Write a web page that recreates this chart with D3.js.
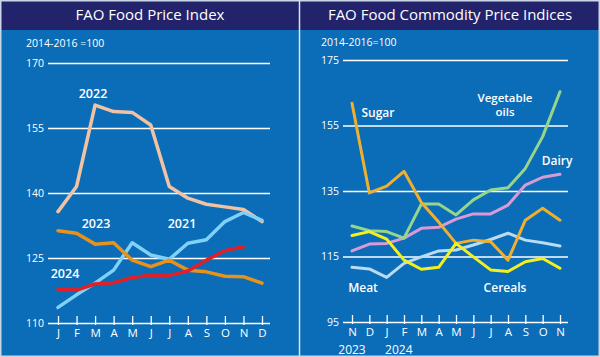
<!DOCTYPE html>
<html><head><meta charset="utf-8">
<script src="https://cdn.jsdelivr.net/npm/d3@7"></script>
<style>
html,body{margin:0;padding:0;background:#0c6bb6;}
svg{display:block;font-family:"Open Sans","Noto Sans",sans-serif;}
</style></head><body>
<svg id="c" width="600" height="357"></svg>
<script>
// ---- Left panel data: FAO Food Price Index ----
const monthsLeft = ["J","F","M","A","M","J","J","A","S","O","N","D"];
const yTicksLeft = [110,125,140,155,170];
const fpi2021 = [113.6,116.5,119.2,122.2,128.5,125.7,124.7,128.4,129.2,133.4,135.5,133.7];
const fpi2022 = [135.7,141.5,160.3,158.8,158.6,155.7,141.5,138.8,137.4,136.8,136.2,133.4];
const fpi2023 = [131.3,130.7,128.2,128.5,124.5,123.0,124.5,122.2,121.8,120.8,120.7,119.2];
const fpi2024 = [117.8,117.6,119.0,119.3,120.5,121.0,121.0,122.0,124.5,126.7,127.6];

// ---- Right panel data: FAO Food Commodity Price Indices ----
const monthsRight = ["N","D","J","F","M","A","M","J","J","A","S","O","N"];
const yearsRight = [{label:"2023",idx:0},{label:"2024",idx:2.7}];
const yTicksRight = [95,115,135,155,175];
const sugar   = [161.8,134.4,136.5,141.0,131.5,125.5,119.0,120.0,119.5,113.9,126.1,129.7,126.1];
const vegOils = [124.3,122.9,122.6,120.6,131.0,131.0,127.7,132.3,135.3,136.0,141.9,151.6,165.3];
const dairy   = [116.7,118.8,119.0,120.6,123.6,123.9,126.4,128.0,128.0,130.7,136.8,139.2,140.1];
const meat    = [111.7,111.2,108.6,112.9,114.9,116.7,117.0,118.5,120.2,122.1,120.0,119.2,118.2];
const cereals = [121.4,122.6,120.3,113.9,111.1,111.7,119.0,114.9,110.9,110.4,113.4,114.4,111.4];

const svg = d3.select("#c");
const W = 600, H = 357;
const BG = "#0b6cb7", NAVY = "#23236b";

svg.append("rect").attr("width",W).attr("height",H).attr("fill",BG);
svg.append("rect").attr("width",W).attr("height",30).attr("fill",NAVY);
svg.append("line").attr("x1",299.5).attr("x2",299.5).attr("y1",0).attr("y2",H)
  .attr("stroke","#d8e6f4").attr("stroke-width",1.5);
svg.append("rect").attr("x",0.75).attr("y",0.75).attr("width",W-1.5).attr("height",H-1.5)
  .attr("fill","none").attr("stroke","#c9d7e6").attr("stroke-width",1.5);

svg.append("text").attr("x",150).attr("y",20).attr("text-anchor","middle")
  .attr("fill","#fff").attr("font-size",15).text("FAO Food Price Index");
svg.append("text").attr("x",450).attr("y",20).attr("text-anchor","middle")
  .attr("fill","#fff").attr("font-size",15).text("FAO Food Commodity Price Indices");

function panel(cfg){
  const g = svg.append("g");
  const y = d3.scaleLinear().domain(cfg.yDomain).range([cfg.yBottom, cfg.yTop]);
  const x = d3.scaleLinear().domain([0, cfg.months.length-1]).range([cfg.x0, cfg.x1]);
  g.append("text").attr("x",cfg.noteX).attr("y",cfg.noteY).attr("fill","#fff")
    .attr("font-size",10.5).attr("font-weight",500).text(cfg.note);
  const ya = g.append("g").attr("transform",`translate(${cfg.gx0},0)`)
    .call(d3.axisLeft(y).tickValues(cfg.yTicks).tickSize(-(cfg.gx1-cfg.gx0)).tickPadding(4).tickFormat(d3.format("d")));
  ya.select(".domain").remove();
  ya.selectAll(".tick line").attr("stroke","#fff").attr("stroke-width",1.6);
  ya.selectAll(".tick text").attr("fill","#fff").attr("font-size",10.5).attr("font-family","Open Sans, sans-serif");
  const xa = g.append("g").attr("transform",`translate(0,${cfg.yBottom-7})`)
    .call(d3.axisBottom(x).tickValues(d3.range(cfg.months.length)).tickSize(9).tickPadding(4)
      .tickFormat(i=>cfg.months[i]));
  xa.select(".domain").remove();
  xa.selectAll(".tick line").attr("stroke","#fff").attr("stroke-width",1.3);
  xa.selectAll(".tick text").attr("fill","#fff").attr("font-size",11.5).attr("font-family","Open Sans, sans-serif");
  const line = d3.line().x((d,i)=>x(i)).y(d=>y(d)).curve(d3.curveLinear);
  cfg.series.forEach(s=>{
    g.append("path").datum(s.values).attr("d",line).attr("fill","none")
      .attr("stroke",s.color).attr("stroke-width",cfg.lw)
      .attr("stroke-linejoin","round").attr("stroke-linecap","round");
  });
  cfg.labels.forEach(l=>{
    g.append("text").attr("x",l.x).attr("y",l.y).attr("text-anchor","middle")
      .attr("fill","#fff").attr("font-size",l.size||12).attr("font-weight",600).text(l.text);
  });
  return {g,x,y};
}

panel({
  yDomain:[110,170], yTop:63, yBottom:323, x0:58, x1:262, gx0:48, gx1:270,
  months:monthsLeft, yTicks:yTicksLeft, lw:3.5,
  note:"2014-2016 =100", noteX:26, noteY:47,
  series:[
    {values:fpi2022, color:"#f2c3a3"},
    {values:fpi2021, color:"#7fd2f6"},
    {values:fpi2023, color:"#e8921c"},
    {values:fpi2024, color:"#e02028"}
  ],
  labels:[
    {text:"2022", x:93, y:98, size:12.5},
    {text:"2023", x:96, y:228, size:12.5},
    {text:"2021", x:182, y:228, size:12.5},
    {text:"2024", x:65, y:278, size:12.5}
  ]
});

const R = panel({
  yDomain:[95,175], yTop:60, yBottom:322, x0:352, x1:560, gx0:343, gx1:568,
  months:monthsRight, yTicks:yTicksRight, lw:3,
  note:"2014-2016=100", noteX:321, noteY:46,
  series:[
    {values:meat, color:"#b7dcf3"},
    {values:dairy, color:"#d99ad6"},
    {values:vegOils, color:"#95d68c"},
    {values:sugar, color:"#f0b02f"},
    {values:cereals, color:"#f6ef1e"}
  ],
  labels:[
    {text:"Sugar", x:378, y:117, size:12},
    {text:"Vegetable", x:505, y:102, size:11.5},
    {text:"oils", x:505, y:116, size:11.5},
    {text:"Dairy", x:557, y:165, size:12},
    {text:"Meat", x:363, y:292, size:12},
    {text:"Cereals", x:505, y:292, size:12}
  ]
});
yearsRight.forEach(yr=>{
  R.g.append("text").attr("x",R.x(yr.idx)).attr("y",354).attr("text-anchor","middle")
    .attr("fill","#fff").attr("font-size",12).text(yr.label);
});
</script>
</body></html>
